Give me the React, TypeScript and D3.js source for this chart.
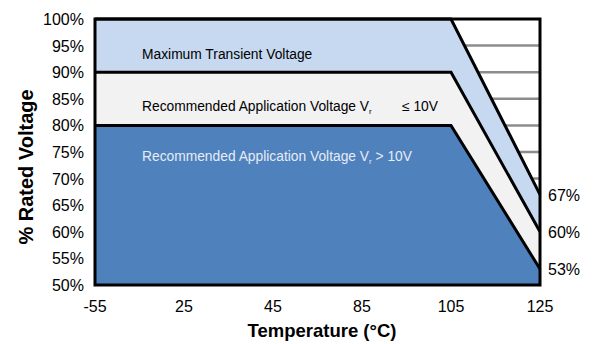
import React from "react";
import * as d3 from "d3";

const categories = ["-55", "25", "45", "85", "105", "125"];
const transient = [100, 100, 100, 100, 100, 67];
const vrLow = [90, 90, 90, 90, 90, 60];
const vrHigh = [80, 80, 80, 80, 80, 53];
const yTicks = [50, 55, 60, 65, 70, 75, 80, 85, 90, 95, 100];
const gridLevels = [55, 60, 65, 70, 75, 80, 85, 90, 95];
const endLabels = ["67%", "60%", "53%"];

const W = 600;
const H = 344;
const left = 95;
const right = 540;
const top = 19;
const bottom = 285;
const font = "Arial, 'Liberation Sans', sans-serif";

export default function App() {
  const x = d3.scalePoint<string>().domain(categories).range([left, right]);
  const y = d3.scaleLinear().domain([50, 100]).range([bottom, top]);

  const area = d3
    .area<number>()
    .x((_, i) => x(categories[i]) as number)
    .y0(y(50))
    .y1((d) => y(d));
  const line = d3
    .line<number>()
    .x((_, i) => x(categories[i]) as number)
    .y((d) => y(d));

  const series = [
    { vals: transient, fill: "#C6D9F1" },
    { vals: vrLow, fill: "#F2F2F2" },
    { vals: vrHigh, fill: "#4F81BD" },
  ];
  const ends = [transient, vrLow, vrHigh].map((s) => s[s.length - 1]);

  return (
    <svg
      width={W}
      height={H}
      style={{ position: "absolute", left: 0, top: 0 }}
      fontFamily={font}
    >
      <rect x={0} y={0} width={W} height={H} fill="#fff" />
      {gridLevels.map((g) => (
        <line
          key={g}
          x1={left}
          x2={right}
          y1={y(g)}
          y2={y(g)}
          stroke="#8C8C8C"
          strokeWidth={2.5}
        />
      ))}
      {series.map((s, i) => (
        <path key={"a" + i} d={area(s.vals) || ""} fill={s.fill} />
      ))}
      {series.map((s, i) => (
        <path
          key={"l" + i}
          d={line(s.vals) || ""}
          fill="none"
          stroke="#000"
          strokeWidth={3}
          strokeLinejoin="miter"
        />
      ))}
      <rect
        x={left}
        y={top}
        width={right - left}
        height={bottom - top}
        fill="none"
        stroke="#000"
        strokeWidth={3}
      />
      {/* band labels */}
      <text x={142} y={59} fontSize={13.8} fill="#000">
        Maximum Transient Voltage
      </text>
      <text x={142} y={111} fontSize={13.8} fill="#000">
        Recommended Application Voltage V
        <tspan fontSize={8} dy={3}>r</tspan>
      </text>
      <text x={402} y={111} fontSize={13.8} fill="#000">
        ≤ 10V
      </text>
      <text x={142} y={161} fontSize={13.8} fill="#E6ECF5">
        Recommended Application Voltage V
        <tspan fontSize={8} dy={3}>r</tspan>
        <tspan dy={-3}> &gt; 10V</tspan>
      </text>
      {/* y ticks */}
      {yTicks.map((t) => (
        <text
          key={t}
          x={84}
          y={y(t) + 6}
          textAnchor="end"
          fontSize={16}
          fill="#000"
        >
          {t}%
        </text>
      ))}
      {/* x ticks */}
      {categories.map((c) => (
        <text
          key={c}
          x={x(c) as number}
          y={312}
          textAnchor="middle"
          fontSize={16}
          fill="#000"
        >
          {c}
        </text>
      ))}
      {/* end labels */}
      {ends.map((v, i) => (
        <text key={i} x={548} y={y(v) + 6} fontSize={16} fill="#000">
          {endLabels[i]}
        </text>
      ))}
      <text
        x={322}
        y={337}
        textAnchor="middle"
        fontSize={18.5}
        fontWeight="bold"
        fill="#000"
      >
        Temperature (°C)
      </text>
      <text
        transform={`translate(33,167) rotate(-90)`}
        textAnchor="middle"
        fontSize={20}
        fontWeight="bold"
        fill="#000"
      >
        % Rated Voltage
      </text>
    </svg>
  );
}
